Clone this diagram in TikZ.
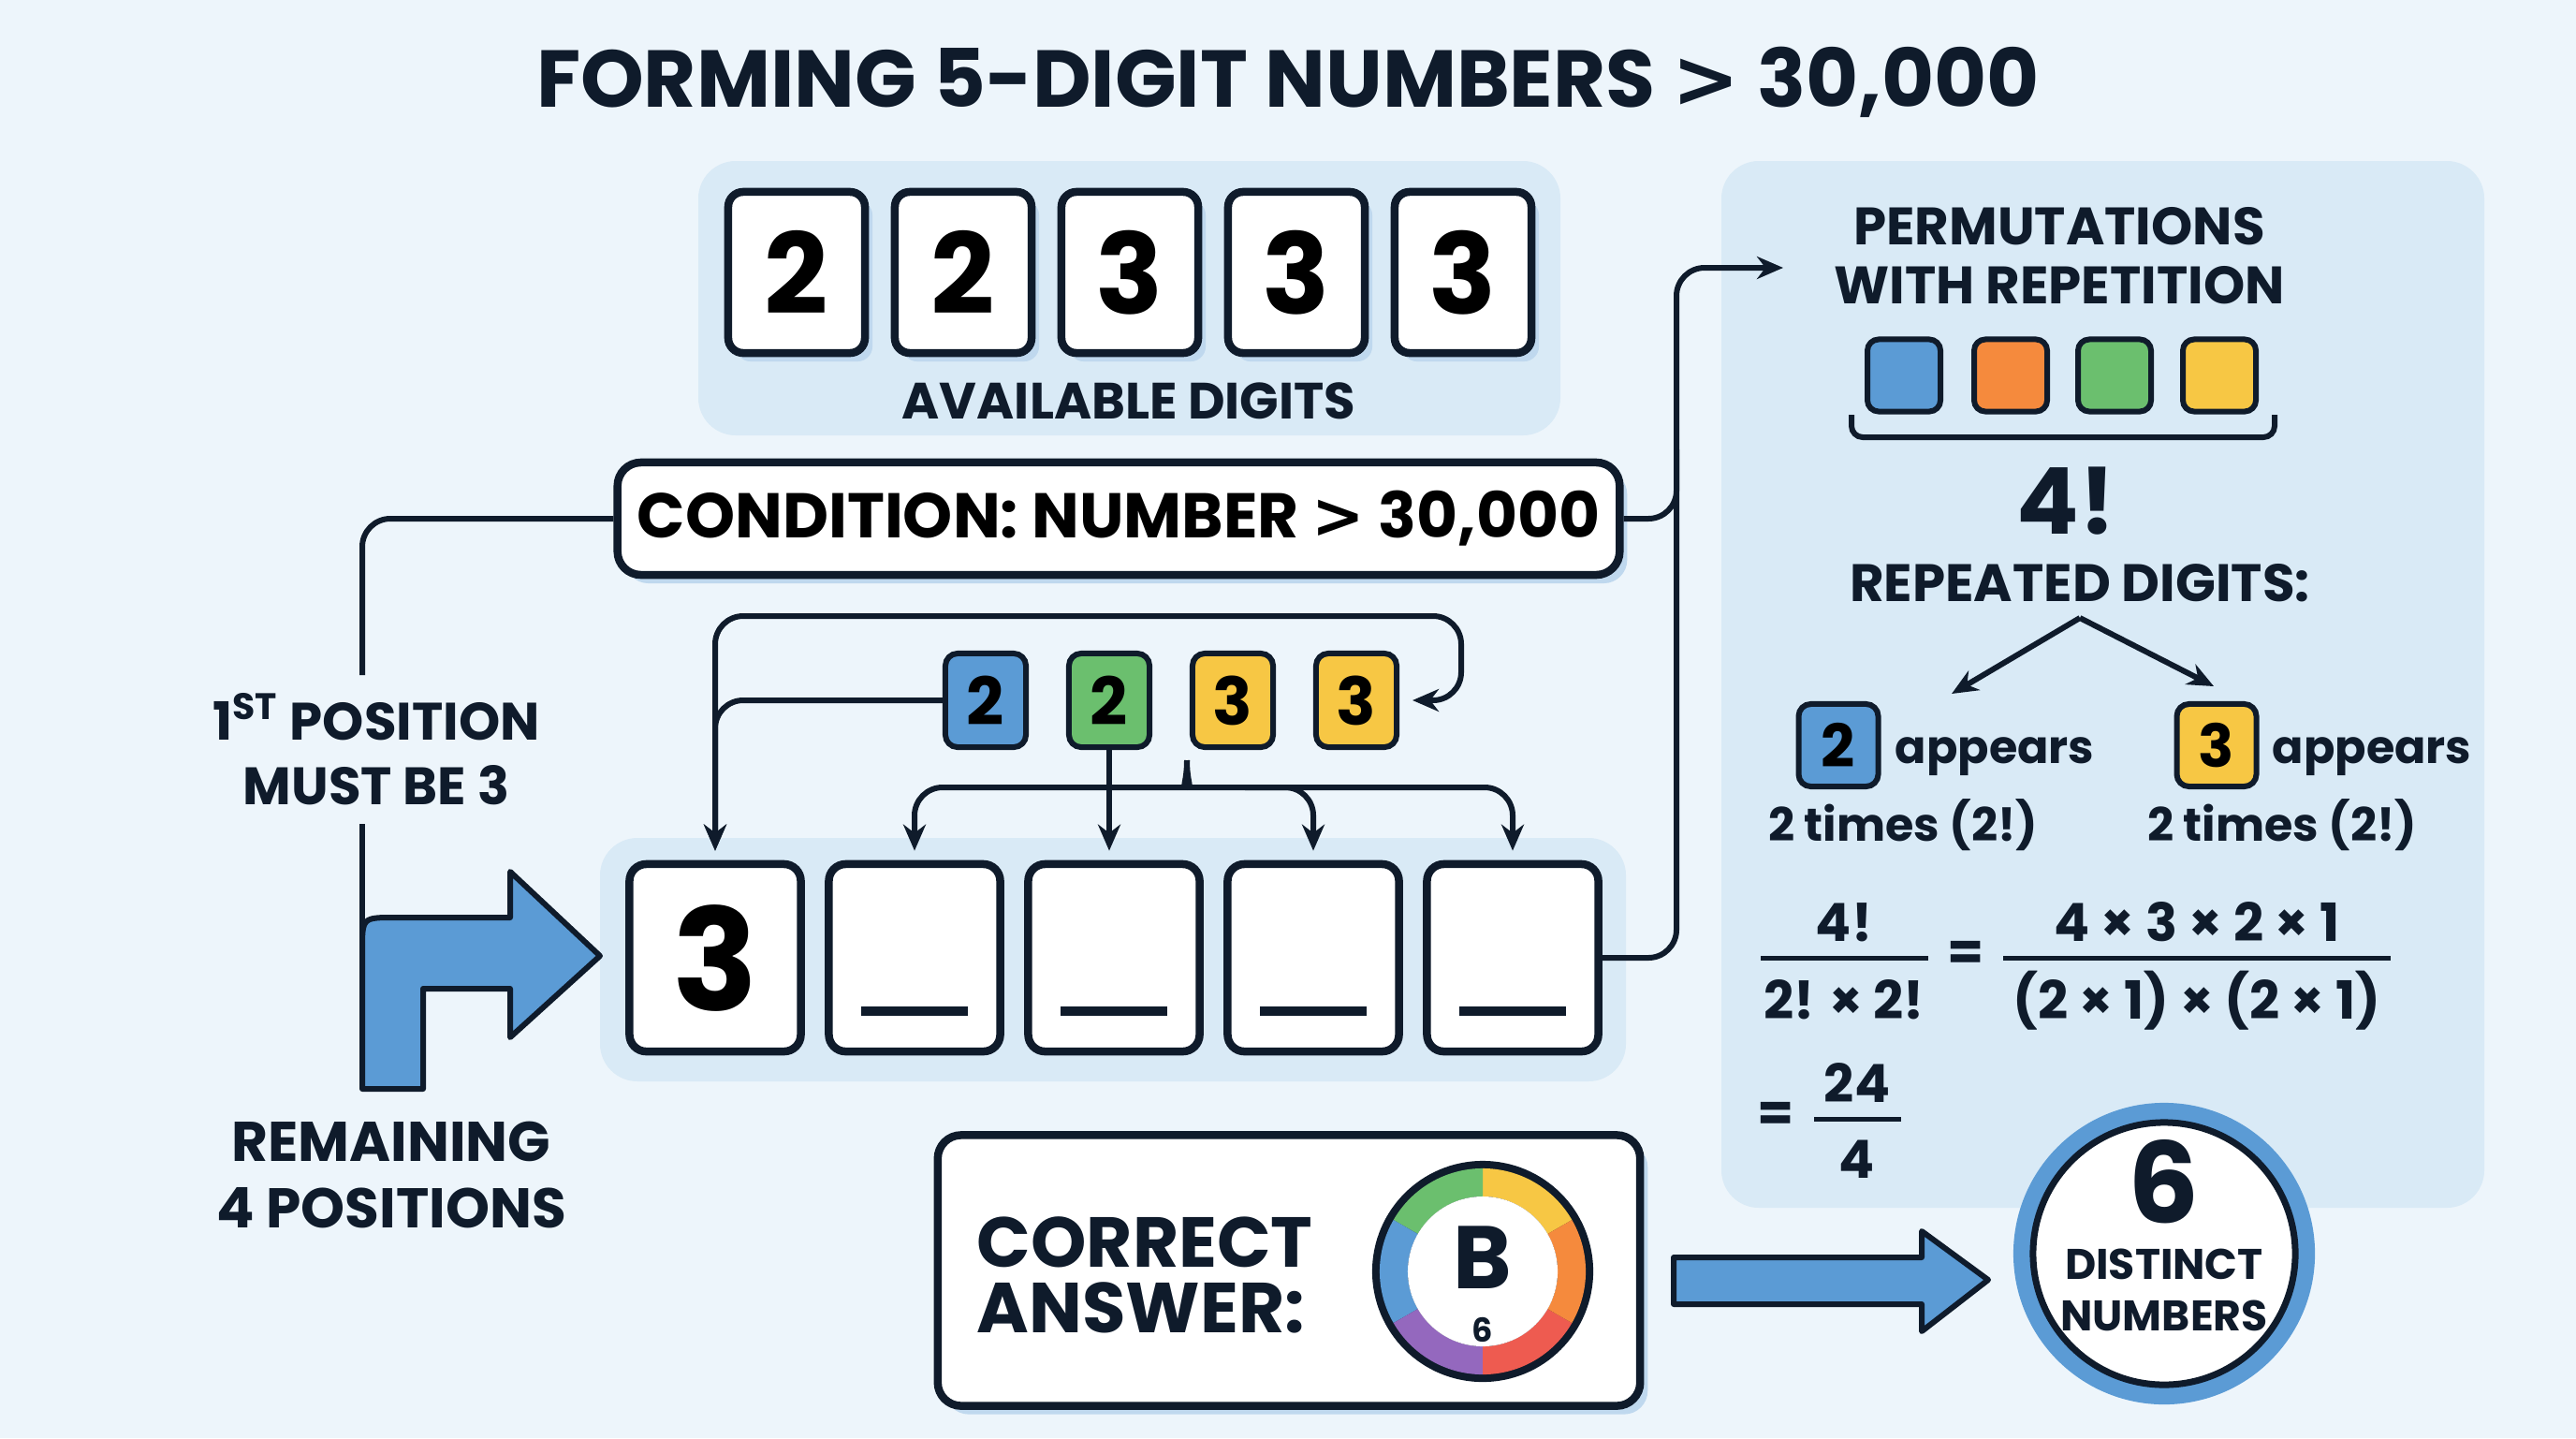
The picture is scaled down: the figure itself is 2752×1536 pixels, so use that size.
\documentclass[tikz,border=0pt]{standalone}
\usepackage{fontspec}
\setmainfont{Poppins}
\newfontfamily\symfont{DejaVu Sans}
\usepackage{tikz}
\usetikzlibrary{arrows.meta, positioning, shadows, calc}

\definecolor{bgc}{HTML}{EDF5FB}
\definecolor{panelc}{HTML}{D9EAF6}
\definecolor{shadowc}{HTML}{BFD8EE}
\definecolor{ink}{HTML}{0F1B2B}
\definecolor{blueA}{HTML}{5B9BD5}
\definecolor{greenA}{HTML}{6BBF6E}
\definecolor{orangeA}{HTML}{F58A3D}
\definecolor{yellowA}{HTML}{F7C744}
\definecolor{redA}{HTML}{EE5B50}
\definecolor{purpleA}{HTML}{9468BE}

\newcommand{\fsz}[1]{\fontsize{#1}{#1}\selectfont\bfseries}
\newcommand{\gtsign}{{\symfont\bfseries >}}

\begin{document}
\begin{tikzpicture}[x=0.01cm, y=-0.01cm,
    >={Stealth[length=0.28cm, width=0.24cm]},
    conn/.style={draw=ink, line width=0.06cm, rounded corners=0.3cm},
    tip/.style={->, shorten >=0.1cm},
    panel/.style={fill=panelc, rounded corners=0.4cm},
    boxshadow/.style={drop shadow={shadow xshift=0.08cm, shadow yshift=-0.09cm, fill=shadowc, opacity=1}},
    digit/.style={rectangle, draw=ink, line width=0.085cm, fill=white, rounded corners=0.16cm, minimum width=1.46cm, minimum height=1.72cm, font=\fsz{34}, boxshadow},
    slot/.style={rectangle, draw=ink, line width=0.085cm, fill=white, rounded corners=0.18cm, minimum width=1.83cm, minimum height=2cm, font=\fsz{43}},
    chip/.style={rectangle, draw=ink, line width=0.06cm, fill=#1, rounded corners=0.13cm, minimum width=0.86cm, minimum height=1cm, font=\fsz{20}},
    tile/.style={rectangle, draw=ink, line width=0.06cm, fill=#1, rounded corners=0.12cm, minimum width=0.78cm, minimum height=0.77cm},
    label/.style={font=\fsz{#1}, text=ink, align=center, inner sep=0pt}
  ]
\useasboundingbox (0,0) rectangle (2752,1536);
\fill[bgc] (0,0) rectangle (2752,1536);

% Title
\node[label=24.5] (title) at (1376,88) {FORMING 5-DIGIT NUMBERS \gtsign{} 30,000};

% Panels
\fill[panel] (746,172) rectangle (1667,465);
\fill[panel] (641,895) rectangle (1737,1155);
\fill[panel] (1839,172) rectangle (2654,1290);

% Available digits
\foreach \d [count=\i] in {2,2,3,3,3}
    \node[digit] (d\i) at ({851+178*(\i-1)},291) {\d};
\node[label=15.5] (avail) at (1206,428) {AVAILABLE DIGITS};

% Condition
\node[rectangle, draw=ink, line width=0.085cm, fill=white, rounded corners=0.25cm, minimum width=10.7cm, minimum height=1.2cm, boxshadow, font=\fsz{19.2}] (cond) at (1195,554) {CONDITION: NUMBER \gtsign{} 30,000};

% Number slots
\foreach \i in {1,...,5}
    \node[slot] (r\i) at ({764+213*(\i-1)},1023) {};
\node[font=\fsz{43}] at (r1) {3};
\foreach \i in {2,...,5}
    \draw[ink, line width=0.1cm] ($(r\i.center)+(-57,57)$) -- ($(r\i.center)+(57,57)$);

% Remaining digits
\node[chip=blueA] (c1) at (1053,748) {2};
\node[chip=greenA] (c2) at (1185,748) {2};
\node[chip=yellowA] (c3) at (1317,748) {3};
\node[chip=yellowA] (c4) at (1449,748) {3};

% Connectors to the slots
\draw[conn, <->, shorten >=0.1cm, shorten <=0.14cm] (c4.east) -- (1561,748) -- (1561,658) -- (764,658) -- (r1.north);
\draw[conn, tip] (c1.west) -| (r1.north);
\draw[conn, tip] (c2.south) -- (c2.south |- r3.north);
\coordinate (bpk) at (1268,812);
\draw[conn, tip] (bpk) .. controls (1268,836) and (1262,841) .. (1238,841) -| (r2.north);
\draw[conn, tip] (bpk) .. controls (1268,836) and (1274,841) .. (1298,841) -| (r5.north);
\draw[conn, tip] (1330,841) -| (r4.north);

% Left side
\node[label=16] (first) at (402,800) {1\textsuperscript{ST} POSITION\\[0.12cm]MUST BE 3};
\coordinate (lefttop) at (387,721);
\coordinate (leftbot) at (387,880);
\draw[conn] (cond.west) -| (lefttop);
\draw[conn] (leftbot) -- (387,1010);
\draw[ink, fill=blueA, line width=0.06cm, line join=round]
    (387,1163) -- (387,1015) .. controls (387,980) .. (422,980) -- (545,980) -- (545,931)
    -- (641,1021) -- (545,1108) -- (545,1056) -- (452,1056) -- (452,1163) -- cycle;
\node[label=17] (remain) at (418,1255) {REMAINING\\[0.12cm]4 POSITIONS};

% Right connectors
\coordinate (bus) at (1791,286);
\coordinate (permin) at (1905,286);
\draw[conn, ->] (r5.east) -| (bus) -- (permin);
\draw[conn] (cond.east) -- (1791,554) -- (1791,480);

% Permutations panel
\node[label=16] (perm) at (2200,273) {PERMUTATIONS\\[0.07cm]WITH REPETITION};
\node[tile=blueA] (t1) at (2034,401) {};
\node[tile=orangeA] (t2) at (2148,401) {};
\node[tile=greenA] (t3) at (2259,401) {};
\node[tile=yellowA] (t4) at (2371,401) {};
\draw[conn, rounded corners=0.12cm] (1978,443) -- (1978,467) -- (2430,467) -- (2430,443);
\node[label=28] (fact) at (2207,535) {4!};
\node[label=16] (rep) at (2222,623) {REPEATED DIGITS:};
\coordinate (split) at (2222,660);
\draw[conn, ->] (split) -- (2085,741);
\draw[conn, ->] (split) -- (2365,733);

\node[chip=blueA, minimum width=0.85cm, minimum height=0.88cm, font=\fsz{18}] (rb1) at (1964,796) {2};
\node[font=\fsz{14}, text=ink, anchor=base west, inner sep=0pt] (ap1) at (2024,815) {appears};
\node[font=\fsz{14}, text=ink, anchor=base, inner sep=0pt] (tm1) at (2033,898) {2 times (2!)};
\node[chip=yellowA, minimum width=0.85cm, minimum height=0.88cm, font=\fsz{18}] (rb2) at (2368,796) {3};
\node[font=\fsz{14}, text=ink, anchor=base west, inner sep=0pt] (ap2) at (2427,815) {appears};
\node[font=\fsz{14}, text=ink, anchor=base, inner sep=0pt] (tm2) at (2438,898) {2 times (2!)};

% Fractions
\node[label=16, anchor=base] (n1) at (1970,1005) {4!};
\node[label=16, anchor=base] (dn1) at (1970,1088) {2! × 2!};
\draw[ink, line width=0.05cm] (1881,1023) -- (2060,1023);
\node[label=16] (eq1) at (2100,1021) {=};
\node[label=16, anchor=base] (n2) at (2347,1005) {4 × 3 × 2 × 1};
\node[label=16, anchor=base] (dn2) at (2347,1088) {(2 × 1) × (2 × 1)};
\draw[ink, line width=0.05cm] (2140,1023) -- (2554,1023);
\node[label=16] (eq2) at (1897,1193) {=};
\node[label=16, anchor=base] (n3) at (1984,1177) {24};
\node[label=16, anchor=base] (dn3) at (1984,1258) {4};
\draw[ink, line width=0.05cm] (1938,1195) -- (2031,1195);

% Correct answer
\node[rectangle, draw=ink, line width=0.085cm, fill=white, rounded corners=0.25cm, minimum width=7.5cm, minimum height=2.89cm, boxshadow] (ans) at (1377,1357) {};
\node[label=21.5, align=left, anchor=west] (anstext) at (1043,1362) {CORRECT\\[-0.05cm]ANSWER:};
\begin{scope}[shift={(1584,1358)}]
    \fill[ink] (0,0) circle (1.18cm);
    \fill[yellowA] (30:1.1cm) arc[start angle=30, end angle=90, radius=1.1cm] -- (90:0.8cm) arc[start angle=90, end angle=30, radius=0.8cm] -- cycle;
    \fill[greenA] (90:1.1cm) arc[start angle=90, end angle=150, radius=1.1cm] -- (150:0.8cm) arc[start angle=150, end angle=90, radius=0.8cm] -- cycle;
    \fill[blueA] (150:1.1cm) arc[start angle=150, end angle=210, radius=1.1cm] -- (210:0.8cm) arc[start angle=210, end angle=150, radius=0.8cm] -- cycle;
    \fill[purpleA] (210:1.1cm) arc[start angle=210, end angle=270, radius=1.1cm] -- (270:0.8cm) arc[start angle=270, end angle=210, radius=0.8cm] -- cycle;
    \fill[redA] (270:1.1cm) arc[start angle=270, end angle=330, radius=1.1cm] -- (330:0.8cm) arc[start angle=330, end angle=270, radius=0.8cm] -- cycle;
    \fill[orangeA] (330:1.1cm) arc[start angle=330, end angle=390, radius=1.1cm] -- (390:0.8cm) arc[start angle=390, end angle=330, radius=0.8cm] -- cycle;
    \fill[white] (0,0) circle (0.8cm);
\end{scope}
\node[label=27] (bopt) at (1584,1343) {B};
\node[label=10] (bnum) at (1584,1420) {6};

% Result
\draw[ink, fill=blueA, line width=0.06cm, line join=round]
    (1788,1343) -- (2053,1343) -- (2053,1315) -- (2124,1367) -- (2053,1422) -- (2053,1393) -- (1788,1393) -- cycle;
\draw[blueA, line width=0.22cm] (2312,1339) circle (1.5cm);
\node[circle, draw=ink, line width=0.07cm, fill=white, minimum size=2.8cm] (res) at (2312,1339) {};
\node[label=34] (six) at (2312,1262) {6};
\node[label=13] (dist) at (2312,1378) {DISTINCT\\[0.09cm]NUMBERS};

\end{tikzpicture}
\end{document}
